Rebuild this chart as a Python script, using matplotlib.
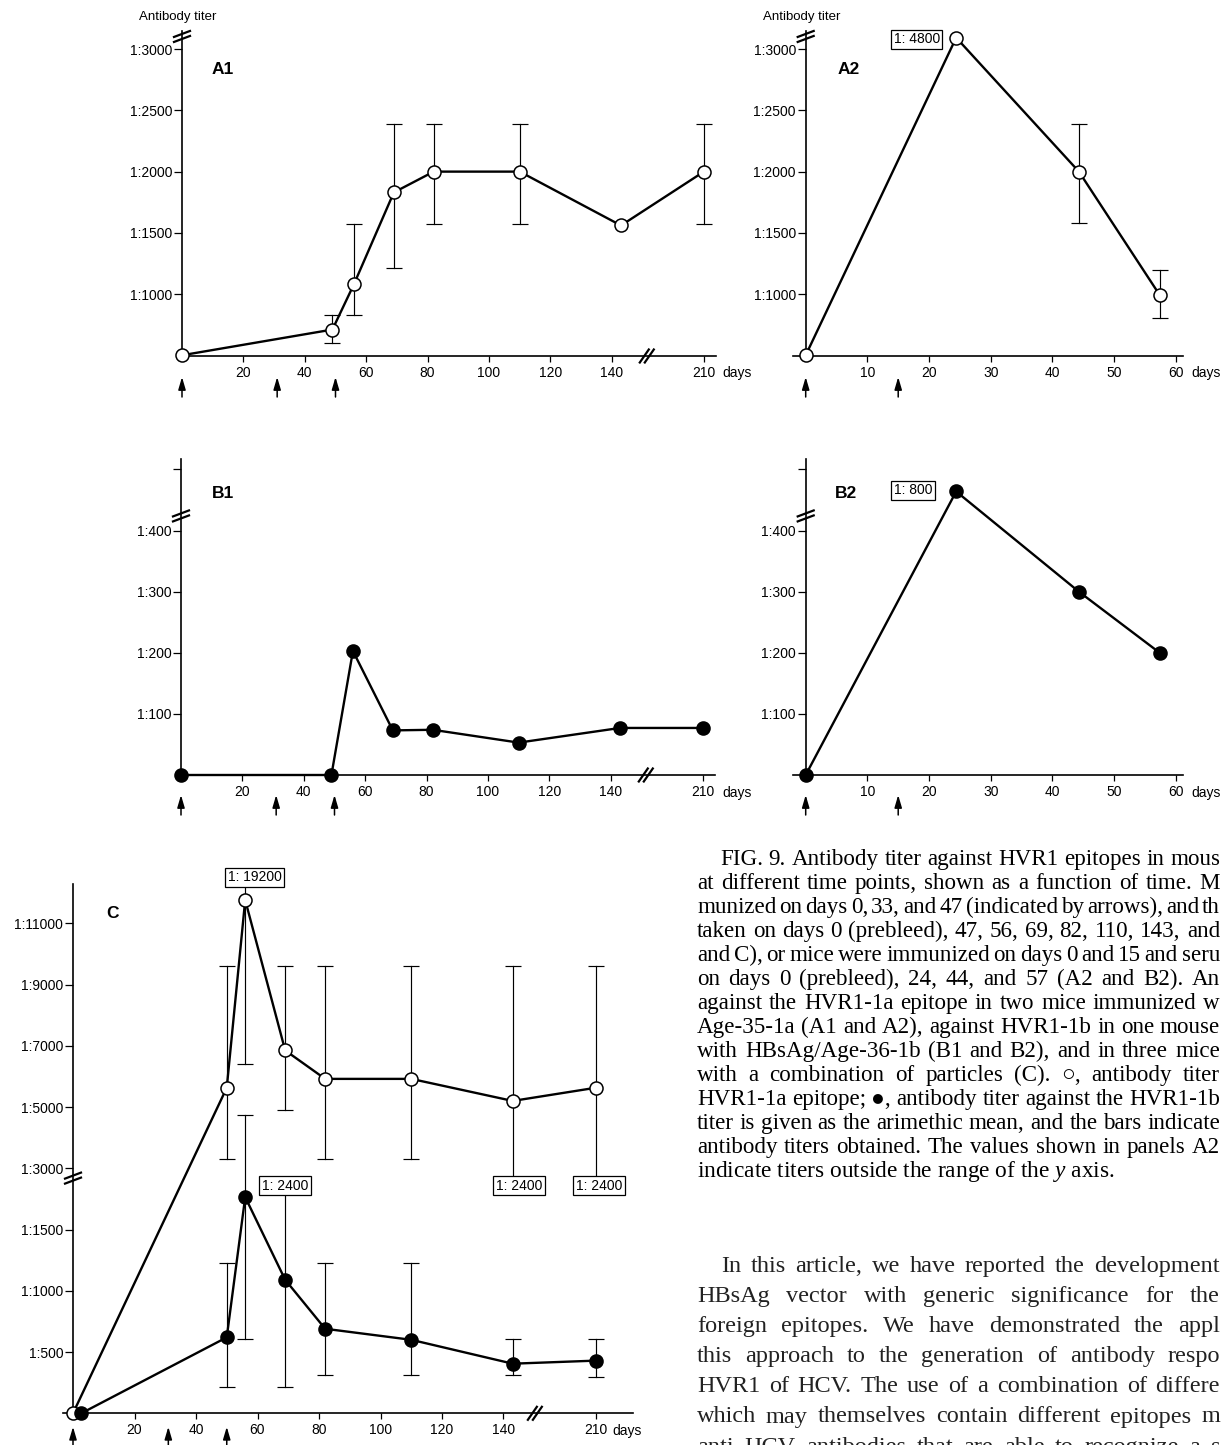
import numpy as np
import matplotlib
matplotlib.use("Agg")
import matplotlib.pyplot as plt
from matplotlib.lines import Line2D
from matplotlib.transforms import offset_copy

plt.rcParams['font.family'] = ['Liberation Sans', 'DejaVu Sans']
plt.rcParams['mathtext.fontset'] = 'custom'
plt.rcParams['mathtext.rm'] = 'Liberation Serif'
plt.rcParams['mathtext.it'] = 'Liberation Serif:italic'

# ------------------------------------------------------------------ data
# Panel A1: anti HVR1-1a titer (open circles), immunised days 0/31/50
a1_days = [0, 49, 56, 69, 82, 110, 143, 210]
a1_titer = [500, 710, 1080, 1830, 2000, 2000, 1560, 2000]
a1_lo = [None, 600, 830, 1215, 1570, 1570, None, 1570]
a1_hi = [None, 830, 1570, 2390, 2390, 2390, None, 2390]
a1_arrows = [0, 31, 50]

# Panel A2
a2_days = [0, 24.4, 44.3, 57.4]
a2_titer = [500, 3094, 2000, 992]
a2_lo = [None, None, 1578, 806]
a2_hi = [None, None, 2386, 1196]
a2_arrows = [0, 15]
a2_off_text = "1: 4800"

# Panel B1: anti HVR1-1b titer (filled circles)
b1_days = [0, 49, 56, 69, 82, 110, 143, 210]
b1_titer = [0, 0, 203, 73, 74, 53, 77, 77]
b1_arrows = [0, 31, 50]

# Panel B2
b2_days = [0, 24.4, 44.3, 57.4]
b2_titer = [0, 464, 300, 200]
b2_arrows = [0, 15]
b2_off_text = "1: 800"

# Panel C: combination of particles
c_a_days = [0, 50, 56, 69, 82, 110, 143, 210]
c_a_titer = [0, 5630, 11760, 6850, 5920, 5920, 5200, 5630]
c_a_lo = [None, 3320, 6400, 4920, 3320, 3320, None, None]
c_a_hi = [None, 9600, None, 9600, 9600, 9600, 9600, 9600]

c_b_days = [2.7, 50, 56, 69, 82, 110, 143, 210]
c_b_titer = [0, 620, 1765, 1090, 690, 600, 405, 430]
c_b_lo = [None, 213, 607, 213, 313, 313, 313, 300]
c_b_hi = [None, 1230, 4740, None, 1230, 1230, 610, 610]
c_arrows = [0, 31, 50]

# off-scale range labels in panel C
c_off_text = ["1: 19200", "1: 2400", "1: 2400", "1: 2400"]
c_off_day = [56, 69, 143, 210]
c_off_series = ["a", "b", "a", "a"]
c_off_end = [12280, 1787, 1918, 1918]

long_ticks = [20, 40, 60, 80, 100, 120, 140, 210]
short_ticks = [10, 20, 30, 40, 50, 60]
a_yticks = [1000, 1500, 2000, 2500, 3000]
b_yticks = [100, 200, 300, 400, 500]
c_yticks = [500, 1000, 1500, 3000, 5000, 7000, 9000, 11000]

caption = [
    "FIG. 9.  Antibody titer against HVR1 epitopes in mous",
    "at different time points, shown as a function of time. M",
    "munized on days 0, 33, and 47 (indicated by arrows), and th",
    "taken on days 0 (prebleed), 47, 56, 69, 82, 110, 143, and",
    "and C), or mice were immunized on days 0 and 15 and seru",
    "on days 0 (prebleed), 24, 44, and 57 (A2 and B2). An",
    "against the HVR1-1a epitope in two mice immunized w",
    "Age-35-1a (A1 and A2), against HVR1-1b in one mouse",
    "with HBsAg/Age-36-1b (B1 and B2), and in three mice",
    "with a combination of particles (C). \u25CB, antibody titer",
    "HVR1-1a epitope; \u25CF, antibody titer against the HVR1-1b",
    "titer is given as the arimethic mean, and the bars indicate",
    "antibody titers obtained. The values shown in panels A2",
    "indicate titers outside the range of the $y$ axis.",
]
body = [
    "In this article, we have reported the development",
    "HBsAg vector with generic significance for the",
    "foreign epitopes. We have demonstrated the appl",
    "this approach to the generation of antibody respo",
    "HVR1 of HCV. The use of a combination of differe",
    "which may themselves contain different epitopes m",
    "anti HCV antibodies that are able to recognize a s",
]

# ------------------------------------------------------------------ figure
W, H = 1222, 1445
fig = plt.figure(figsize=(W / 100, H / 100), dpi=100)
fig.patch.set_facecolor("white")


def xf(x):
    x = np.asarray(x, float)
    return np.where(x <= 150, x, 150 + (x - 150) / 3.0)


def xi(u):
    u = np.asarray(u, float)
    return np.where(u <= 150, u, 150 + (u - 150) * 3.0)


def cf(v):
    v = np.asarray(v, float)
    return np.where(v <= 1920, v / 500.0,
                    np.where(v < 3000, 3.84 + (v - 1920) * (0.16 / 1080.0),
                             4 + (v - 3000) / 2000.0))


def ci(u):
    u = np.asarray(u, float)
    return np.where(u <= 3.84, u * 500.0,
                    np.where(u < 4, 1920 + (u - 3.84) * (1080.0 / 0.16),
                             3000 + (u - 4) * 2000.0))


def make_ax(yax_px, xax_px, px_per_unit, u_left, u_right, top_px):
    left = yax_px + u_left * px_per_unit
    right = yax_px + u_right * px_per_unit
    return fig.add_axes([left / W, 1 - xax_px / H, (right - left) / W, (xax_px - top_px) / H])


def style(ax, xt, yt, ylab):
    for s in ("top", "right"):
        ax.spines[s].set_visible(False)
    ax.spines["left"].set_position(("data", 0))
    for s in ("left", "bottom"):
        ax.spines[s].set_linewidth(1.2)
    ax.set_xticks(xt)
    ax.set_xticklabels([str(t) for t in xt])
    ax.set_yticks(yt)
    ax.set_yticklabels(ylab)
    ax.tick_params(axis="x", direction="out", length=4.3, width=0.9, pad=3, labelsize=10)
    ax.tick_params(axis="y", direction="out", length=6, width=0.9, pad=1, labelsize=10)
    ax.patch.set_alpha(0)


def series(ax, d, v, filled):
    ax.plot(d, v, "-", color="black", lw=1.7, marker="o", ms=9.4,
            mfc="black" if filled else "white", mec="black", mew=1.1,
            clip_on=False, zorder=4)


def half_bar(ax, d, v, end, cap=True):
    ax.plot([d, d], [v, end], color="black", lw=0.85, zorder=2, clip_on=False)
    if cap:
        ax.plot([d], [end], marker="_", ms=11, mew=0.85, color="black",
                zorder=2, clip_on=False)


def bars(ax, d, v, lo, hi):
    for i in range(len(d)):
        if lo[i] is not None:
            half_bar(ax, d[i], v[i], lo[i])
        if hi[i] is not None:
            half_bar(ax, d[i], v[i], hi[i])


def arrows(ax, days, tip_px, length_px):
    y0 = ax.get_ylim()[0]
    tr = offset_copy(ax.transData, fig=fig, x=0, y=-tip_px, units="dots")
    for d in days:
        ax.annotate("", xy=(d, y0), xycoords=tr,
                    xytext=(0, -length_px * 0.72), textcoords="offset points",
                    arrowprops=dict(arrowstyle="-|>,head_length=0.75,head_width=0.22",
                                    color="black", lw=1.1, shrinkA=0, shrinkB=0,
                                    mutation_scale=10),
                    annotation_clip=False)


def brk(ax, xd, yd, kind):
    X, Y = ax.transData.transform((float(xd), float(yd)))
    if kind == "y":
        segs = [((-8, -5.5), (8, 0.5)), ((-8, -0.5), (8, 5.5))]
    else:
        segs = [((-7, -6.5), (2, 6.5)), ((-2, -6.5), (7, 6.5))]
    for (x0, y0), (x1, y1) in segs:
        fig.add_artist(Line2D([(X + x0) / W, (X + x1) / W], [(Y + y0) / H, (Y + y1) / H],
                              transform=fig.transFigure, color="black", lw=1.6))


def boxed(ax, x, y, s):
    ax.text(x, y, s, ha="center", va="center", fontsize=10, zorder=6, clip_on=False,
            bbox=dict(boxstyle="square,pad=0.18", fc="white", ec="black", lw=0.9))


def ftext(xp, yp, s, **kw):
    return fig.text(xp / W, 1 - yp / H, s, **kw)


renderer = fig.canvas.get_renderer()


def justified(x0, x1, yp, line, **kw):
    words = line.split()
    texts = [ftext(x0, yp, w, **kw) for w in words]
    widths = [t.get_window_extent(renderer).width for t in texts]
    gap = (x1 - x0 - sum(widths)) / max(len(words) - 1, 1)
    x = x0
    for t, w in zip(texts, widths):
        t.set_x(x / W)
        x += w + gap


# ------------------------------------------------------------------ A1
ax = make_ax(182, 356, 3.07, -1.6, 174, 30.7)
ax.set_xscale("function", functions=(xf, xi))
ax.set_xlim(-1.6, float(xi(174)))
ax.set_ylim(494, 3151)
style(ax, long_ticks, a_yticks, ["1:%d" % t for t in a_yticks])
bars(ax, a1_days, a1_titer, a1_lo, a1_hi)
series(ax, a1_days, a1_titer, False)
arrows(ax, a1_arrows, 21, 20)
brk(ax, 0, 3104, "y")
brk(ax, float(xi(151.4)), 494, "x")
ftext(139, 16.7, "Antibody titer", fontsize=9.5, va="center")
ftext(212, 69, "A1", fontsize=12.5, fontweight="bold", va="center")
ftext(722, 373, "days", fontsize=10, va="center")

# ------------------------------------------------------------------ A2
ax = make_ax(805.7, 356, 6.167, -2.0, 61.2, 30.7)
ax.set_xlim(-2.0, 61.2)
ax.set_ylim(494, 3151)
style(ax, short_ticks, a_yticks, ["1:%d" % t for t in a_yticks])
bars(ax, a2_days, a2_titer, a2_lo, a2_hi)
series(ax, a2_days, a2_titer, False)
arrows(ax, a2_arrows, 21, 20)
brk(ax, 0, 3104, "y")
boxed(ax, 18.0, 3082, a2_off_text)
ftext(763, 16.7, "Antibody titer", fontsize=9.5, va="center")
ftext(838, 69, "A2", fontsize=12.5, fontweight="bold", va="center")
ftext(1191, 373, "days", fontsize=10, va="center")

# ------------------------------------------------------------------ B1
ax = make_ax(181, 775, 3.07, -1.6, 174, 459.1)
ax.set_xscale("function", functions=(xf, xi))
ax.set_xlim(-1.6, float(xi(174)))
ax.set_ylim(0, 517)
style(ax, long_ticks, b_yticks, ["1:%d" % t for t in b_yticks[:-1]] + [""])
series(ax, b1_days, b1_titer, True)
arrows(ax, b1_arrows, 20, 20)
brk(ax, 0, 424, "y")
brk(ax, float(xi(151.4)), 0, "x")
ftext(212, 494, "B1", fontsize=12.5, fontweight="bold", va="center")
ftext(722, 792.5, "days", fontsize=10, va="center")

# ------------------------------------------------------------------ B2
ax = make_ax(805.7, 775, 6.167, -2.0, 61.2, 459.1)
ax.set_xlim(-2.0, 61.2)
ax.set_ylim(0, 517)
style(ax, short_ticks, b_yticks, ["1:%d" % t for t in b_yticks[:-1]] + [""])
series(ax, b2_days, b2_titer, True)
arrows(ax, b2_arrows, 20, 20)
brk(ax, 0, 424, "y")
boxed(ax, 17.4, 466, b2_off_text)
ftext(835, 493, "B2", fontsize=12.5, fontweight="bold", va="center")
ftext(1191, 792.5, "days", fontsize=10, va="center")

# ------------------------------------------------------------------ C
ax = make_ax(73, 1413.3, 3.075, -3.25, 182, 883.5)
ax.set_xscale("function", functions=(xf, xi))
ax.set_yscale("function", functions=(cf, ci))
ax.set_xlim(-3.25, float(xi(182)))
ax.set_ylim(0, float(ci(8.65)))
style(ax, long_ticks, c_yticks, ["1:%d" % t for t in c_yticks])
bars(ax, c_a_days, c_a_titer, c_a_lo, c_a_hi)
bars(ax, c_b_days, c_b_titer, c_b_lo, c_b_hi)
for txt, d, s, end in zip(c_off_text, c_off_day, c_off_series, c_off_end):
    days_s = c_a_days if s == "a" else c_b_days
    vals_s = c_a_titer if s == "a" else c_b_titer
    v = vals_s[days_s.index(d)]
    half_bar(ax, d, v, end, cap=False)
series(ax, c_a_days, c_a_titer, False)
series(ax, c_b_days, c_b_titer, True)
boxed(ax, 59.1, 12512, c_off_text[0])
boxed(ax, 69, 1856, c_off_text[1])
boxed(ax, 145, 1856, c_off_text[2])
boxed(ax, 213, 1856, c_off_text[3])
arrows(ax, c_arrows, 13.5, 20)
brk(ax, 0, 1920, "y")
brk(ax, float(xi(150.2)), 0, "x")
ftext(106, 914, "C", fontsize=12.5, fontweight="bold", va="center")
ftext(612, 1431, "days", fontsize=10, va="center")

# ------------------------------------------------------------------ caption & text
serif = ["Liberation Serif", "DejaVu Sans"]
for i, line in enumerate(caption):
    x0 = 720 if i == 0 else 697
    yb = 859 + 24 * i + 6
    if i < len(caption) - 1:
        justified(x0, 1220, yb, line, fontsize=16.6, family=serif, va="baseline")
    else:
        ftext(x0, yb, line, fontsize=16.8, family=serif, va="baseline")
for i, line in enumerate(body):
    x0 = 721 if i == 0 else 697
    justified(x0, 1220, 1265 + 30.1 * i + 7, line, fontsize=17.5, family=serif,
              va="baseline", color="#222222")

fig.savefig("out.png", dpi=100, facecolor="white")
